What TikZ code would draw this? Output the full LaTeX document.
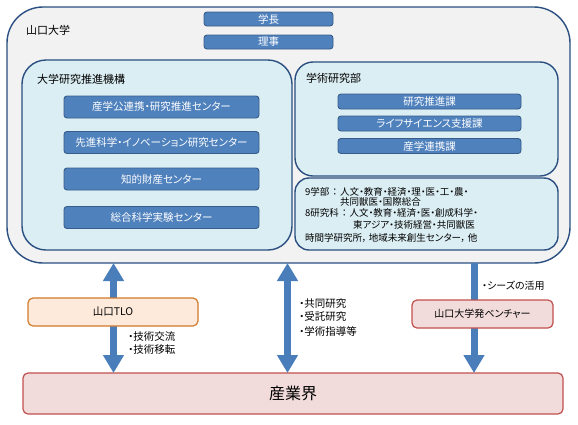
\documentclass[tikz,border=0pt]{standalone}
\usepackage{fontspec}
\setmainfont{Noto Sans CJK JP}[RawFeature={+palt}]
\usetikzlibrary{arrows.meta}
\definecolor{navy}{HTML}{2A4F80}
\definecolor{outerfill}{HTML}{F2F2F2}
\definecolor{lightblue}{HTML}{DBEEF3}
\definecolor{btnfill}{HTML}{4F81BD}
\definecolor{btnline}{HTML}{385D8A}
\definecolor{tlofill}{HTML}{FDEADA}
\definecolor{tloline}{HTML}{D07A2E}
\definecolor{pinkfill}{HTML}{F2DCDB}
\definecolor{redline}{HTML}{C0504D}
\definecolor{arrowblue}{HTML}{4A7EBB}
\newcommand{\colsep}{\hspace{3pt}：\hspace{3pt}}
\tikzset{
  box/.style={draw, inner sep=0pt, outer sep=0pt},
  bigbox/.style={box, draw=navy, line width=1.4pt},
  btn/.style={box, draw=btnline, fill=btnfill, line width=0.9pt, rounded corners=3pt,
    text=white, font=\fontsize{10.5pt}{12pt}\selectfont},
  lbl/.style={anchor=west, inner sep=0pt, font=\fontsize{10.5pt}{12pt}\selectfont},
  fac/.style={anchor=west, inner sep=0pt, font=\fontsize{9.5pt}{11pt}\selectfont},
  pinkbox/.style={box, draw=redline, fill=pinkfill, line width=1.2pt, rounded corners=5pt},
  dbl/.style={line width=7pt, draw=arrowblue, {Triangle[width=20pt,length=18pt]}-{Triangle[width=20pt,length=18pt]}},
  sgl/.style={line width=7pt, draw=arrowblue, -{Triangle[width=20pt,length=18pt]}},
}
\begin{document}
\begin{tikzpicture}[x=1pt,y=-1pt]
\useasboundingbox (0,0) rectangle (578,424);
% outer university box
\node[bigbox, fill=outerfill, minimum width=563, minimum height=256, rounded corners=36pt] (univ) at (288.5,135) {};
\node[lbl, font=\fontsize{11pt}{13pt}\selectfont] (univlbl) at (26,30.5) {山口大学};
\node[btn, minimum width=129, minimum height=14] (pres) at (268.5,19) {学長};
\node[btn, minimum width=129, minimum height=14] (dir) at (268.5,42) {理事};
% organisation box
\node[bigbox, fill=lightblue, minimum width=270, minimum height=190, rounded corners=24pt] (org) at (157,155) {};
\node[lbl, font=\fontsize{11pt}{13pt}\selectfont] (orglbl) at (37,79) {大学研究推進機構};
\node[btn, minimum width=195, minimum height=22] (c1) at (161.5,107) {産学公連携・研究推進センター};
\node[btn, minimum width=195, minimum height=22] (c2) at (161.5,142.5) {先進科学・イノベーション研究センター};
\node[btn, minimum width=195, minimum height=22] (c3) at (161.5,179) {知的財産センター};
\node[btn, minimum width=195, minimum height=22] (c4) at (161.5,217.5) {総合科学実験センター};
% academic research dept
\node[bigbox, fill=lightblue, minimum width=263, minimum height=114, rounded corners=18pt] (acad) at (426.5,119) {};
\node[lbl, font=\fontsize{11pt}{13pt}\selectfont] (acadlbl) at (306,78) {学術研究部};
\node[btn, minimum width=183, minimum height=15] (d1) at (429.5,101.5) {研究推進課};
\node[btn, minimum width=183, minimum height=15] (d2) at (429.5,123.5) {ライフサイエンス支援課};
\node[btn, minimum width=183, minimum height=15] (d3) at (429.5,146) {産学連携課};
% faculties box
\node[bigbox, fill=lightblue, minimum width=263, minimum height=72, rounded corners=14pt] (facbox) at (426.5,214) {};
\node[fac] (f1) at (305,191.5) {9学部\colsep 人文・教育・経済・理・医・工・農・};
\node[fac] (f2) at (340,202) {共同獣医・国際総合};
\node[fac] (f3) at (305,213) {8研究科\colsep 人文・教育・経済・医・創成科学・};
\node[fac] (f4) at (353,224.5) {東アジア・技術経営・共同獣医};
\node[fac] (f5) at (305,238) {時間学研究所，\hspace{2pt}地域未来創生センター，\hspace{2pt}他};
% industry
\node[pinkbox, minimum width=540, minimum height=41] (ind) at (293,393.5) {};
\node[inner sep=0pt, font=\fontsize{16pt}{18pt}\selectfont] (indlbl) at (ind.center) {産業界};
% arrow axes
\coordinate (ax1) at (113.5,300);
\coordinate (ax2) at (287.5,300);
\coordinate (ax3) at (474,300);
\draw[dbl] (univ.south -| ax1) -- (ind.north -| ax1);
\draw[dbl] (univ.south -| ax2) -- (ind.north -| ax2);
\draw[sgl] (univ.south -| ax3) -- (ind.north -| ax3);
% TLO and venture
\node[box, draw=tloline, fill=tlofill, line width=1.2pt, rounded corners=5pt, minimum width=170, minimum height=28,
  font=\fontsize{10.5pt}{12pt}\selectfont] (tlo) at (113,312) {山口TLO};
\node[pinkbox, minimum width=141, minimum height=28, font=\fontsize{10pt}{12pt}\selectfont] (vent) at (482.5,314) {山口大学発ベンチャー};
% arrow labels
\node[lbl] (l1) at (128,337) {・技術交流};
\node[lbl] (l2) at (128,350) {・技術移転};
\node[lbl] (m1) at (299,304) {・共同研究};
\node[lbl] (m2) at (299,317) {・受託研究};
\node[lbl] (m3) at (299,331) {・学術指導等};
\node[lbl, font=\fontsize{10pt}{12pt}\selectfont] (s1) at (482,286) {・シーズの活用};
\end{tikzpicture}
\end{document}
